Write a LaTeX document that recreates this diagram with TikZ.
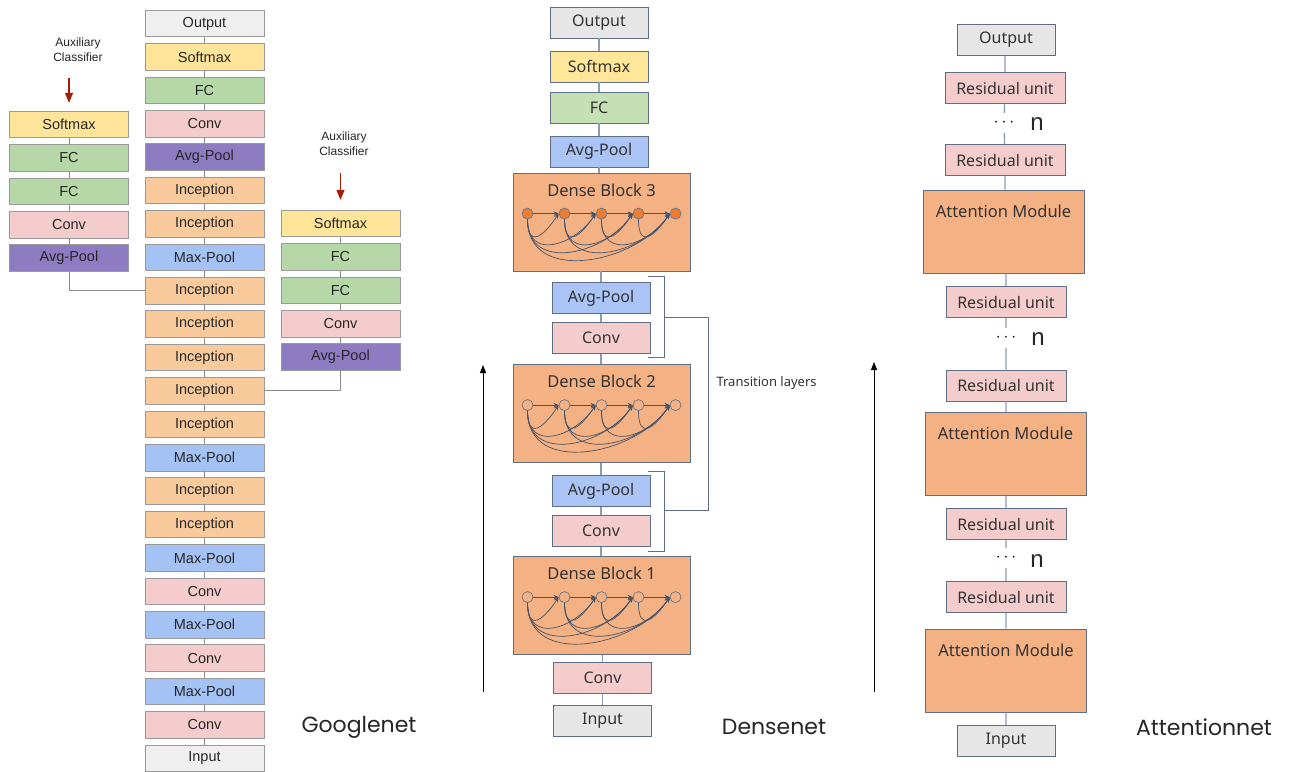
\documentclass[tikz,border=0pt]{standalone}
\usepackage{fontspec}
\setmainfont{Liberation Sans}
\newfontfamily\notofont{Noto Sans}
\newfontfamily\titlefont{Poppins}
\usetikzlibrary{arrows.meta,positioning}

\definecolor{boxgray}{HTML}{EFEFEF}
\definecolor{gyellow}{HTML}{FFE599}
\definecolor{ggreen}{HTML}{B6D7A8}
\definecolor{gpink}{HTML}{F4CCCC}
\definecolor{gpurple}{HTML}{8E7CC3}
\definecolor{gorange}{HTML}{F9CB9C}
\definecolor{gblue}{HTML}{A4C2F4}
\definecolor{gborder}{HTML}{999999}
\definecolor{dborder}{HTML}{5F6E86}
\definecolor{dline}{HTML}{8C9BB2}
\definecolor{dgray}{HTML}{E7E6E6}
\definecolor{dyellow}{HTML}{FFE699}
\definecolor{dgreen}{HTML}{C5E0B4}
\definecolor{dblue}{HTML}{A9C4F5}
\definecolor{dpink}{HTML}{F4CCCC}
\definecolor{dorange}{HTML}{F4B183}
\definecolor{dotorange}{HTML}{ED7D31}
\definecolor{flowcol}{HTML}{44546A}
\definecolor{auxred}{HTML}{A61C00}

% dots and skip links inside one dense block
\newcommand{\denseflow}[2]{%
  \foreach \k/\dx in {1/-74,2/-37,3/0,4/37,5/74}
    \node[dot, fill=#2] (#1-\k) at ([xshift=\dx pt, yshift=-41pt]#1.north) {};
  \foreach \a/\b in {1/2,2/3,3/4,4/5}
    \draw[flow] (#1-\a) -- (#1-\b);
  \foreach \a/\b in {1/2,1/3,1/4,1/5,2/3,2/4,2/5,3/4,3/5,4/5}{
    \pgfmathsetmacro\dep{18+12*(\b-\a)}
    \draw[flow] (#1-\a.south) .. controls +(0,\dep) and +(-0.5*\dep,0.75*\dep) .. (#1-\b.west);
  }
}

\begin{document}
\begin{tikzpicture}[x=1pt, y=-1pt, node distance=6.1pt,
gbox/.style={draw=gborder, line width=0.8pt, minimum width=119pt, minimum height=26.5pt, inner sep=0pt, font=\fontsize{14.5}{16}\selectfont, text=black!85},
dbox/.style={draw=dborder, line width=0.8pt, minimum width=98pt, minimum height=31pt, inner sep=0pt, font=\notofont\fontsize{16}{18}\selectfont, text=black!80},
rbox/.style={dbox, minimum width=120pt},
block/.style={draw=dborder, line width=0.8pt, fill=dorange, minimum width=177pt, inner sep=0pt, text height=23pt, text depth=75pt, font=\notofont\fontsize{16.5}{18}\selectfont, text=black!80},
attn/.style={block, minimum width=161pt, text height=27pt, text depth=56pt},
dot/.style={circle, draw=flowcol!80, line width=0.7pt, minimum size=11pt, inner sep=0pt},
flow/.style={draw=flowcol, line width=0.7pt, -{Stealth[length=5pt,width=4.5pt]}},
glink/.style={draw=gborder!90!black, line width=1pt},
dlink/.style={draw=dline, line width=1.3pt},
brk/.style={draw=dborder, line width=0.9pt},
dotsnode/.style={inner sep=0pt, minimum height=20pt, font=\fontsize{16}{16}\selectfont},
nnode/.style={font=\fontsize{24}{24}\selectfont, text=black!85},
auxtext/.style={align=center, font=\fontsize{12}{15}\selectfont, text=black!85},
redarrow/.style={draw=auxred, line width=1.2pt, -{Triangle[width=8pt,length=10pt]}},
uparrow/.style={draw=black, line width=1pt, -{Triangle[width=6pt,length=8pt]}},
title/.style={font=\titlefont\fontsize{22}{24}\selectfont, text=black!85}]
\fill[white] (0,0) rectangle (1292,771);
\useasboundingbox (0,0) rectangle (1292,771);

% Googlenet main column
\node[gbox, fill=boxgray] (g1) at (204.5,23.5) {Output};
\node[gbox, fill=gyellow, below=of g1] (g2) {Softmax};
\node[gbox, fill=ggreen, below=of g2] (g3) {FC};
\node[gbox, fill=gpink, below=of g3] (g4) {Conv};
\node[gbox, fill=gpurple, below=of g4] (g5) {Avg-Pool};
\node[gbox, fill=gorange, below=of g5] (g6) {Inception};
\node[gbox, fill=gorange, below=of g6] (g7) {Inception};
\node[gbox, fill=gblue, below=of g7] (g8) {Max-Pool};
\node[gbox, fill=gorange, below=of g8] (g9) {Inception};
\node[gbox, fill=gorange, below=of g9] (g10) {Inception};
\node[gbox, fill=gorange, below=of g10] (g11) {Inception};
\node[gbox, fill=gorange, below=of g11] (g12) {Inception};
\node[gbox, fill=gorange, below=of g12] (g13) {Inception};
\node[gbox, fill=gblue, below=of g13] (g14) {Max-Pool};
\node[gbox, fill=gorange, below=of g14] (g15) {Inception};
\node[gbox, fill=gorange, below=of g15] (g16) {Inception};
\node[gbox, fill=gblue, below=of g16] (g17) {Max-Pool};
\node[gbox, fill=gpink, below=of g17] (g18) {Conv};
\node[gbox, fill=gblue, below=of g18] (g19) {Max-Pool};
\node[gbox, fill=gpink, below=of g19] (g20) {Conv};
\node[gbox, fill=gblue, below=of g20] (g21) {Max-Pool};
\node[gbox, fill=gpink, below=of g21] (g22) {Conv};
\node[gbox, fill=boxgray, below=of g22] (g23) {Input};
\draw[glink] (g1) -- (g2) (g2) -- (g3) (g3) -- (g4) (g4) -- (g5) (g5) -- (g6)
  (g6) -- (g7) (g7) -- (g8) (g8) -- (g9) (g9) -- (g10) (g10) -- (g11) (g11) -- (g12)
  (g12) -- (g13) (g13) -- (g14) (g14) -- (g15) (g15) -- (g16) (g16) -- (g17)
  (g17) -- (g18) (g18) -- (g19) (g19) -- (g20) (g20) -- (g21) (g21) -- (g22) (g22) -- (g23);

% auxiliary classifiers
\node[auxtext] (auxl) at (78,50) {Auxiliary\\Classifier};
\node[gbox, fill=gyellow] (ga1) at (69,124.5) {Softmax};
\node[gbox, fill=ggreen, below=of ga1] (ga2) {FC};
\node[gbox, fill=ggreen, below=of ga2] (ga3) {FC};
\node[gbox, fill=gpink, below=of ga3] (ga4) {Conv};
\node[gbox, fill=gpurple, below=of ga4] (ga5) {Avg-Pool};
\draw[glink] (ga1) -- (ga2) (ga2) -- (ga3) (ga3) -- (ga4) (ga4) -- (ga5);
\draw[glink] (ga5.south) |- (g9.west);
\draw[redarrow, shorten <=13pt, shorten >=8pt] (ga1.north |- auxl.south) -- (ga1.north);

\node[auxtext] (auxr) at (344,144) {Auxiliary\\Classifier};
\node[gbox, fill=gyellow] (gb1) at (340.5,223.5) {Softmax};
\node[gbox, fill=ggreen, below=of gb1] (gb2) {FC};
\node[gbox, fill=ggreen, below=of gb2] (gb3) {FC};
\node[gbox, fill=gpink, below=of gb3] (gb4) {Conv};
\node[gbox, fill=gpurple, below=of gb4] (gb5) {Avg-Pool};
\draw[glink] (gb1) -- (gb2) (gb2) -- (gb3) (gb3) -- (gb4) (gb4) -- (gb5);
\draw[glink] (gb5.south) |- (g12.east);
\draw[redarrow, shorten <=14pt, shorten >=10pt] (gb1.north |- auxr.south) -- (gb1.north);

\node[title] (tgoogle) at (359,727) {Googlenet};

% Densenet
\node[dbox, fill=dgray] (dout) at (599,22.5) {Output};
\node[dbox, fill=dyellow] (dsoft) at (599,66.5) {Softmax};
\node[dbox, fill=dgreen] (dfc) at (599,107.5) {FC};
\node[dbox, fill=dblue] (dgap) at (599,151.5) {Avg-Pool};
\node[block] (dblk3) at (601.5,222) {Dense Block 3};
\node[dbox, fill=dblue] (dtpool2) at (601,298) {Avg-Pool};
\node[dbox, fill=dpink] (dtconv2) at (601,338) {Conv};
\node[block] (dblk2) at (601.5,413.5) {Dense Block 2};
\node[dbox, fill=dblue] (dtpool1) at (601,491) {Avg-Pool};
\node[dbox, fill=dpink] (dtconv1) at (601,531) {Conv};
\node[block] (dblk1) at (601.5,605.5) {Dense Block 1};
\node[dbox, fill=dpink] (dconv) at (602.5,678) {Conv};
\node[dbox, fill=dgray] (din) at (602.5,721) {Input};
\draw[dlink] (dout) -- (dsoft) (dsoft) -- (dfc) (dfc) -- (dgap) (dgap) -- (dblk3.north -| dgap);
\draw[dlink] (dblk3.south -| dtpool2) -- (dtpool2) (dtpool2) -- (dtconv2) (dtconv2) -- (dblk2.north -| dtconv2);
\draw[dlink] (dblk2.south -| dtpool1) -- (dtpool1) (dtpool1) -- (dtconv1) (dtconv1) -- (dblk1.north -| dtconv1);
\draw[dlink] (dblk1.south -| dconv) -- (dconv) (dconv) -- (din);
\denseflow{dblk3}{dotorange}
\denseflow{dblk2}{none}
\denseflow{dblk1}{none}

% transition brackets
\node[font=\notofont\fontsize{13}{15}\selectfont, text=black!80, anchor=west] (trans) at (713,383) {Transition layers};
\draw[brk] ([xshift=-2pt,yshift=6pt]dtpool2.north east) -- ++(16,0) |- ([xshift=-2pt,yshift=-4pt]dtconv2.south east);
\draw[brk] ([xshift=-2pt,yshift=4pt]dtpool1.north east) -- ++(16,0) |- ([xshift=-2pt,yshift=-5pt]dtconv1.south east);
\coordinate (tm2) at (664,317);
\coordinate (tm1) at (664,510);
\draw[brk] (tm2) -| ([xshift=-5pt]trans.west) |- (tm1);

\coordinate (dup0) at (483,692);
\coordinate (dup1) at (483,365);
\draw[uparrow] (dup0) -- (dup1);
\node[title] (tdense) at (774,727) {Densenet};

% Attentionnet
\node[dbox, fill=dgray] (aout) at (1006,40) {Output};
\node[rbox, fill=dpink] (ares1) at (1005,88) {Residual unit};
\node[dotsnode] (adots1) at (1004,123) {$\cdots$};
\node[nnode] (an1) at (1037,124) {n};
\node[rbox, fill=dpink] (ares2) at (1005,160) {Residual unit};
\node[attn] (aatt1) at (1003.5,231.5) {Attention Module};
\node[rbox, fill=dpink] (ares3) at (1006,302) {Residual unit};
\node[dotsnode] (adots2) at (1006,338) {$\cdots$};
\node[nnode] (an2) at (1038,339) {n};
\node[rbox, fill=dpink] (ares4) at (1006,385.5) {Residual unit};
\node[attn] (aatt2) at (1005.5,454) {Attention Module};
\node[rbox, fill=dpink] (ares5) at (1006,524) {Residual unit};
\node[dotsnode] (adots3) at (1006,558) {$\cdots$};
\node[nnode] (an3) at (1037,561) {n};
\node[rbox, fill=dpink] (ares6) at (1006,597) {Residual unit};
\node[attn] (aatt3) at (1006,670.5) {Attention Module};
\node[dbox, fill=dgray] (ain) at (1006,741) {Input};
\draw[dlink] (aout.south -| ares1) -- (ares1) (ares1) -- (adots1) (adots1) -- (ares2)
  (ares2) -- (aatt1.north -| ares2) (aatt1.south -| ares3) -- (ares3) (ares3) -- (adots2) (adots2) -- (ares4)
  (ares4) -- (aatt2.north -| ares4) (aatt2.south -| ares5) -- (ares5) (ares5) -- (adots3) (adots3) -- (ares6)
  (ares6) -- (aatt3.north -| ares6) (aatt3.south -| ain) -- (ain);

\coordinate (aup0) at (874,692);
\coordinate (aup1) at (874,362);
\draw[uparrow] (aup0) -- (aup1);
\node[title] (tattn) at (1204,727) {Attentionnet};
\end{tikzpicture}
\end{document}
